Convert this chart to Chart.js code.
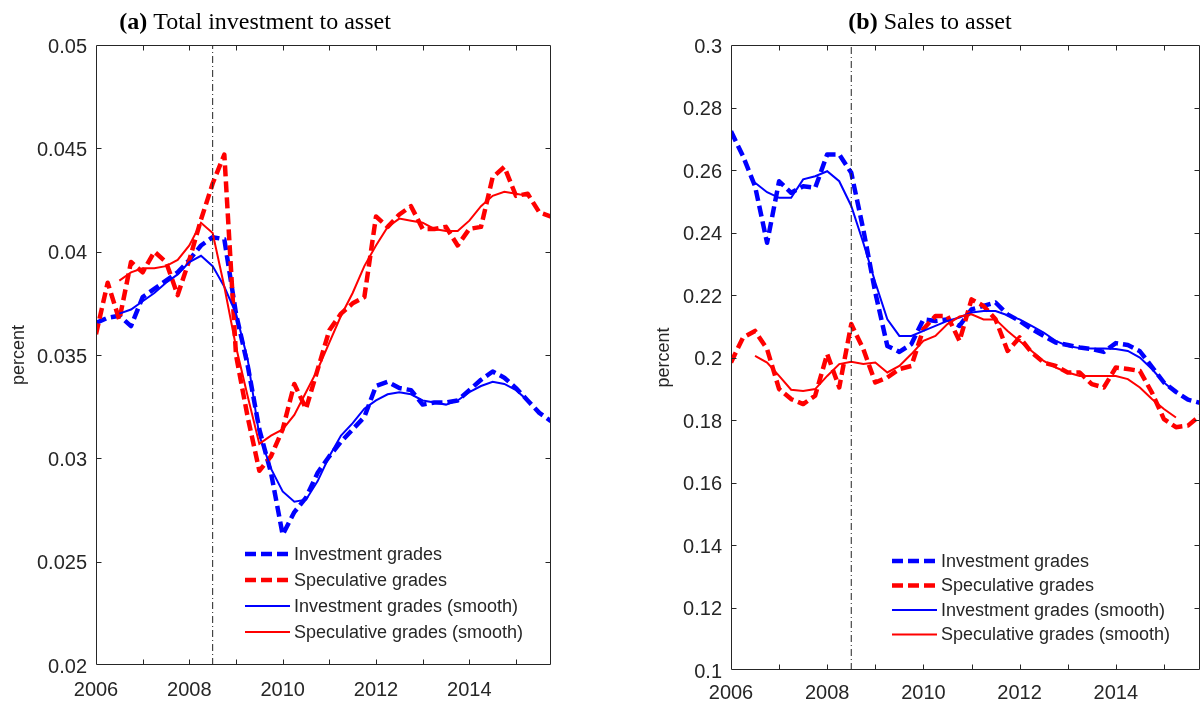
<!DOCTYPE html>
<html><head><meta charset="utf-8">
<script src="https://cdn.jsdelivr.net/npm/chart.js@4/dist/chart.umd.min.js"></script>
<style>
html,body{margin:0;padding:0;background:#fff;overflow:hidden;}
#wrap{position:relative;width:1203px;height:706px;background:#fff;}
canvas{position:absolute;top:0;}
</style></head><body>
<div id="wrap">
<canvas id="cA" width="600" height="706" style="left:0px;width:600px;height:706px"></canvas>
<canvas id="cB" width="603" height="706" style="left:600px;width:603px;height:706px"></canvas>
</div>
<script>
// ---------- data ----------
const quarters = [2006,2006.25,2006.5,2006.75,2007,2007.25,2007.5,2007.75,2008,2008.25,2008.5,2008.75,2009,2009.25,2009.5,2009.75,2010,2010.25,2010.5,2010.75,2011,2011.25,2011.5,2011.75,2012,2012.25,2012.5,2012.75,2013,2013.25,2013.5,2013.75,2014,2014.25,2014.5,2014.75,2015,2015.25,2015.5,2015.75];
const crisisDate = 2008.5;

const legendLabels = ['Investment grades','Speculative grades','Investment grades (smooth)','Speculative grades (smooth)'];
const panelTags = ['(a)','(b)'];
const panelTitles = ['Total investment to asset','Sales to asset'];
const yAxisLabel = 'percent';

const xTickLabels = ['2006','2008','2010','2012','2014'];
const yTickLabelsA = ['0.02','0.025','0.03','0.035','0.04','0.045','0.05'];
const yTickLabelsB = ['0.1','0.12','0.14','0.16','0.18','0.2','0.22','0.24','0.26','0.28','0.3'];

// (a) Total investment to asset
const invA = [0.03655,0.0368,0.0369,0.0364,0.0378,0.0382,0.0386,0.0390,0.0396,0.0403,0.0407,0.0406,0.0370,0.0345,0.0314,0.0293,0.0263,0.0274,0.0281,0.0293,0.0301,0.0308,0.0314,0.0320,0.0335,0.0337,0.0334,0.0333,0.0326,0.0327,0.0327,0.0328,0.0333,0.0338,0.0342,0.0339,0.0334,0.0328,0.0322,0.0318];
const specA = [0.0360,0.0385,0.0367,0.0395,0.0390,0.0400,0.0395,0.0379,0.0396,0.04155,0.0433,0.0447,0.0350,0.0320,0.0294,0.0301,0.0314,0.0336,0.0324,0.0343,0.0362,0.0370,0.0375,0.0378,0.0417,0.0412,0.0418,0.0422,0.0411,0.0411,0.0412,0.0403,0.0411,0.0412,0.0436,0.0441,0.0427,0.0428,0.0419,0.0417];
const invSmoothA = [null,null,0.0370,0.0372,0.0376,0.0380,0.0385,0.0389,0.0395,0.0398,0.0393,0.0383,0.0370,0.0348,0.0311,0.0295,0.0284,0.0279,0.0280,0.0289,0.0301,0.0311,0.0317,0.0324,0.0328,0.0331,0.0332,0.0331,0.0328,0.0327,0.0326,0.0328,0.0332,0.0335,0.0337,0.0336,0.0333,0.0328,null,null];
const specSmoothA = [null,null,0.0386,0.0390,0.0392,0.0392,0.0393,0.0396,0.0403,0.0414,0.0409,0.0383,0.0354,0.0330,0.0307,0.0311,0.0314,0.0321,0.0332,0.0343,0.0356,0.0369,0.0380,0.0393,0.0403,0.0412,0.0416,0.0415,0.0414,0.0411,0.0410,0.0410,0.0415,0.0422,0.0427,0.0429,0.0428,0.0427,null,null];

// (b) Sales to asset
const invB = [0.2724,0.2644,0.2548,0.2367,0.2564,0.2527,0.2548,0.2543,0.2650,0.2650,0.2591,0.2410,0.2208,0.2037,0.2018,0.2043,0.2122,0.2117,0.2122,0.2101,0.2154,0.2165,0.2176,0.2138,0.2117,0.2091,0.2069,0.2048,0.2040,0.2032,0.2027,0.2018,0.2046,0.2040,0.2020,0.1970,0.1920,0.1890,0.1865,0.1855];
const specB = [0.1984,0.2064,0.2085,0.2027,0.1899,0.1867,0.1851,0.1878,0.2011,0.1904,0.2107,0.2027,0.1920,0.1936,0.1963,0.1973,0.2091,0.2133,0.2133,0.2053,0.2186,0.2165,0.2122,0.2021,0.2064,0.2016,0.1984,0.1973,0.1952,0.1952,0.1915,0.1904,0.1968,0.1963,0.1957,0.1888,0.1803,0.1777,0.1782,0.1814];
const invSmoothB = [null,null,0.2559,0.2529,0.2511,0.2511,0.2570,0.2580,0.2596,0.2564,0.2485,0.2367,0.2240,0.2122,0.2069,0.2069,0.2085,0.2101,0.2117,0.2128,0.2144,0.2149,0.2149,0.2135,0.2122,0.2101,0.2080,0.2053,0.2037,0.2030,0.2029,0.2029,0.2027,0.2021,0.2000,0.1963,0.1920,0.1888,null,null];
const specSmoothB = [null,null,0.2005,0.1984,0.1941,0.1897,0.1893,0.1899,0.1941,0.1979,0.1986,0.1979,0.1984,0.1952,0.1973,0.2011,0.2053,0.2069,0.2107,0.2131,0.2138,0.2122,0.2122,0.2085,0.2053,0.2021,0.1989,0.1968,0.1952,0.1941,0.1941,0.1941,0.1941,0.1931,0.1904,0.1867,0.1835,0.1808,null,null];

// ---------- helpers ----------
const AX = '#262626';
const BLUE = '#0000ff', RED = '#ff0000';
const SANS = "'Liberation Sans', Arial, sans-serif";
const SERIF = "'Liberation Serif', 'Times New Roman', serif";

function pts(vals){ return quarters.map((q,i)=>({x:q, y:vals[i]})); }

const matlabAxes = {
  id:'matlabAxes',
  afterDatasetsDraw(chart, args, o){
    const {ctx, chartArea:a} = chart;
    const x = chart.scales.x, y = chart.scales.y;
    const L = Math.round(a.left)+0.5, R = Math.round(a.right)-0.5, T = Math.round(a.top)+0.5, B = Math.round(a.bottom)-0.5;
    const len = o.tickLen || 5;
    ctx.save();
    ctx.strokeStyle = AX; ctx.lineWidth = 1; ctx.setLineDash([]);
    ctx.beginPath();
    ctx.rect(L, T, R-L, B-T);
    x.ticks.forEach(t=>{
      const px = Math.round(x.getPixelForValue(t.value))+0.5;
      if (px <= L+1 || px >= R-1) return;
      ctx.moveTo(px,B); ctx.lineTo(px,B-len);
      ctx.moveTo(px,T); ctx.lineTo(px,T+len);
    });
    y.ticks.forEach(t=>{
      const py = Math.round(y.getPixelForValue(t.value))+0.5;
      if (py <= T+1 || py >= B-1) return;
      ctx.moveTo(L,py); ctx.lineTo(L+len,py);
      ctx.moveTo(R,py); ctx.lineTo(R-len,py);
    });
    ctx.stroke();
    ctx.restore();
  }
};

const panelTitle = {
  id:'panelTitle',
  afterDraw(chart, args, o){
    const ctx = chart.ctx;
    ctx.save();
    ctx.fillStyle = '#000';
    ctx.textBaseline = 'alphabetic';
    const fb = 'bold ' + o.size + 'px ' + SERIF, fn = o.size + 'px ' + SERIF;
    ctx.font = fb; const w1 = ctx.measureText(o.tag).width;
    ctx.font = fn; const w2 = ctx.measureText(' ' + o.text).width;
    let x0 = o.cx - (w1+w2)/2;
    ctx.textAlign = 'left';
    ctx.font = fb; ctx.fillText(o.tag, x0, o.y);
    ctx.font = fn; ctx.fillText(' ' + o.text, x0 + w1, o.y);
    ctx.restore();
  }
};

const insideLegend = {
  id:'insideLegend',
  afterDraw(chart, args, o){
    const ctx = chart.ctx;
    ctx.save();
    ctx.font = o.size + 'px ' + SANS;
    ctx.textBaseline = 'middle';
    ctx.textAlign = 'left';
    let row = 0;
    chart.data.datasets.forEach(ds=>{
      if (!ds.label) return;
      const yy = o.y + row*o.rowH;
      ctx.strokeStyle = ds.borderColor;
      ctx.lineWidth = ds.borderWidth;
      ctx.setLineDash(ds.borderDash || []);
      ctx.beginPath(); ctx.moveTo(o.x, yy); ctx.lineTo(o.x + o.lineLen, yy); ctx.stroke();
      ctx.setLineDash([]);
      ctx.fillStyle = AX;
      ctx.fillText(ds.label, o.x + o.lineLen + 4, yy + 1);
      row++;
    });
    ctx.restore();
  }
};

function yTickFmt(labels){
  return function(v){
    for (const s of labels) if (Math.abs(parseFloat(s) - v) < 1e-9) return s;
    return '';
  };
}
function xTickFmt(v){
  const s = String(Math.round(v));
  return (Math.abs(v - Math.round(v)) < 1e-9 && xTickLabels.includes(s)) ? s : '';
}

function makeChart(id, p){
  const yMin = parseFloat(p.yLabels[0]), yMax = parseFloat(p.yLabels[p.yLabels.length-1]);
  return new Chart(document.getElementById(id), {
    type:'line',
    data:{ datasets:[
      {label:legendLabels[0], data:pts(p.inv), borderColor:BLUE, borderWidth:4.5, borderDash:[11,5], pointRadius:0, tension:0, order:4, borderJoinStyle:'round'},
      {label:legendLabels[1], data:pts(p.spec), borderColor:RED, borderWidth:4.5, borderDash:[11,5], pointRadius:0, tension:0, order:3, borderJoinStyle:'round'},
      {label:legendLabels[2], data:pts(p.invS), borderColor:BLUE, borderWidth:2, pointRadius:0, tension:0, order:2, spanGaps:false},
      {label:legendLabels[3], data:pts(p.specS), borderColor:RED, borderWidth:2, pointRadius:0, tension:0, order:1, spanGaps:false},
      {label:'', data:[{x:crisisDate,y:yMin},{x:crisisDate,y:yMax}], borderColor:'#222', borderWidth:1, borderDash:[7,3,1,3], pointRadius:0, order:0}
    ]},
    options:{
      responsive:false, animation:false, devicePixelRatio:1,
      layout:{ padding:{left:p.padL, right:p.padR, top:45, bottom:0} },
      plugins:{
        legend:{display:false}, tooltip:{enabled:false},
        matlabAxes:{tickLen:5},
        panelTitle:{tag:p.tag, text:p.title, cx:p.titleX, y:29, size:24},
        insideLegend:{x:p.legX, y:p.legY, rowH:p.legRow, lineLen:45, size:18}
      },
      scales:{
        x:{ type:'linear', min:2006, max:2015.75,
            afterFit(s){ s.height = p.xH; },
            grid:{display:false, drawTicks:false}, border:{display:false},
            ticks:{ stepSize:1, includeBounds:false, autoSkip:false, maxRotation:0, padding:p.xPad,
                    color:AX, font:{family:SANS, size:20}, callback:xTickFmt } },
        y:{ type:'linear', min:yMin, max:yMax,
            afterFit(s){ s.width = p.yW; },
            grid:{display:false, drawTicks:false}, border:{display:false},
            title:{display:true, text:yAxisLabel, color:AX, font:{family:SANS, size:18}, padding:{top:0,bottom:0}},
            ticks:{ stepSize:p.yStep, autoSkip:false, padding:9, labelOffset:2,
                    color:AX, font:{family:SANS, size:20}, callback:yTickFmt(p.yLabels) } }
      }
    },
    plugins:[matlabAxes, panelTitle, insideLegend]
  });
}

makeChart('cA', {inv:invA, spec:specA, invS:invSmoothA, specS:specSmoothA, yLabels:yTickLabelsA, yStep:0.005,
  tag:panelTags[0], title:panelTitles[0], titleX:255,
  padL:8, yW:88, padR:49, xH:41, xPad:13,
  legX:245, legY:554, legRow:26});
makeChart('cB', {inv:invB, spec:specB, invS:invSmoothB, specS:specSmoothB, yLabels:yTickLabelsB, yStep:0.02,
  tag:panelTags[1], title:panelTitles[1], titleX:330,
  padL:53, yW:78, padR:3, xH:36, xPad:11,
  legX:292, legY:561, legRow:24.5});
</script>
</body></html>
